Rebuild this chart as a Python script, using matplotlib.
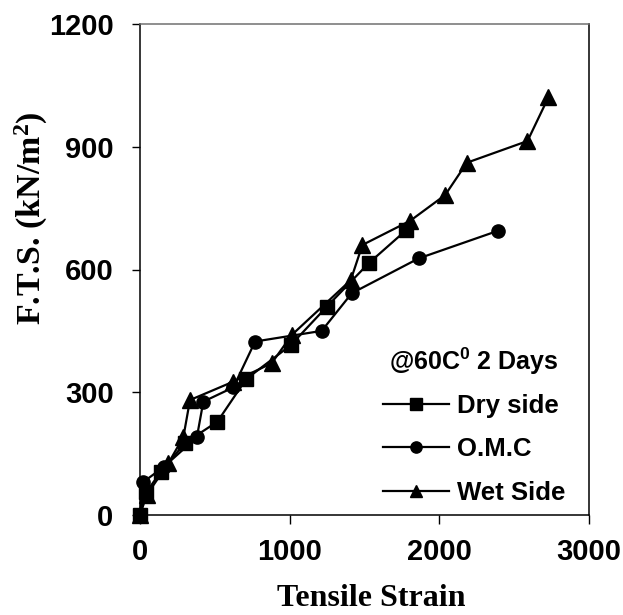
import matplotlib
matplotlib.use("Agg")
import matplotlib.pyplot as plt

# values
dry_x = [0, 40, 140, 300, 517, 709, 1007, 1248, 1527, 1778]
dry_y = [0, 55, 106, 176, 228, 332, 415, 509, 615, 696]

omc_x = [0, 20, 160, 380, 423, 624, 769, 1214, 1415, 1861, 2395]
omc_y = [0, 80, 118, 190, 277, 312, 424, 450, 542, 627, 695]

wet_x = [0, 45, 189, 290, 334, 624, 880, 1014, 1408, 1486, 1805, 2039, 2184, 2589, 2729]
wet_y = [0, 49, 126, 191, 281, 326, 371, 440, 574, 660, 719, 782, 861, 914, 1021]

x_ticks = [0, 1000, 2000, 3000]
y_ticks = [0, 300, 600, 900, 1200]

plt.rcParams["mathtext.default"] = "regular"

W, H = 623, 615
dpi = 100
fig = plt.figure(figsize=(W / dpi, H / dpi), dpi=dpi)
fig.patch.set_facecolor("white")
ax = fig.add_axes([140 / W, 1 - 515 / H, 449 / W, 491 / H])

style = dict(color="black", lw=1.6, clip_on=False)
ax.plot(dry_x, dry_y, marker="s", ms=9.5, label="Dry side", **style)
ax.plot(omc_x, omc_y, marker="o", ms=9.5, label="O.M.C", **style)
ax.plot(wet_x, wet_y, marker="^", ms=11, label="Wet Side", **style)

ax.set_xlim(0, 3000)
ax.set_ylim(0, 1200)
ax.set_xticks(x_ticks)
ax.set_yticks(y_ticks)

tick_font = dict(family="Liberation Sans", weight="bold", size=21)
ax.set_xticklabels([str(v) for v in x_ticks], fontdict=tick_font)
ax.set_yticklabels([str(v) for v in y_ticks], fontdict=tick_font)
ax.tick_params(axis="x", direction="out", length=6.5, width=1, pad=10)
ax.tick_params(axis="y", direction="out", length=6, width=1, pad=13)

for sp in ax.spines.values():
    sp.set_linewidth(1.1)
    sp.set_color("black")
ax.spines["top"].set_color("#707070")

ax.set_xlabel("Tensile Strain", family="Liberation Serif", weight="bold",
              size=23, va="baseline")
ax.xaxis.set_label_coords((371 - 140) / 449, (515 - 606) / 491)
ax.set_ylabel("F.T.S. (kN/m$^{2}$)", family="Liberation Serif", weight="bold",
              size=24.5, va="center")
ax.yaxis.set_label_coords((31 - 140) / 449, (515 - 218) / 491)

leg = ax.legend(
    loc="upper left",
    bbox_to_anchor=(383 / W, 1 - 346 / H),
    bbox_transform=fig.transFigure,
    frameon=False,
    title="@60C$^{0}$ 2 Days",
    prop=dict(family="Liberation Sans", weight="bold", size=18.5),
    title_fontproperties=dict(family="Liberation Sans", weight="bold", size=18),
    handlelength=2.55,
    handletextpad=0.33,
    labelspacing=0.75,
    borderpad=0,
    borderaxespad=0,
    markerscale=0.85,
)
leg._legend_box.sep = 12

fig.savefig("out.png", dpi=dpi, facecolor="white")
